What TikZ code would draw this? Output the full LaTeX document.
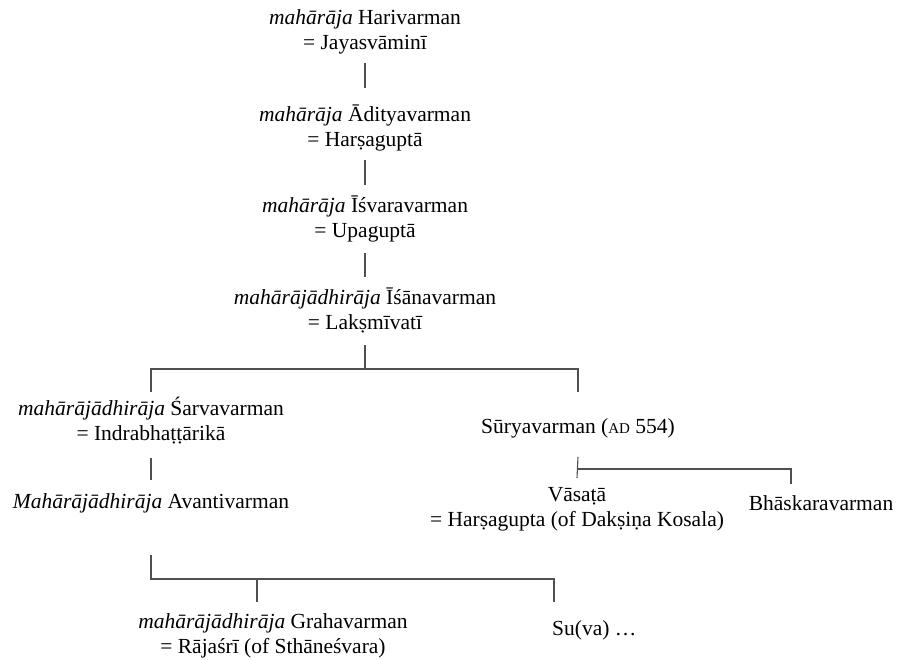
\documentclass[tikz,border=0pt]{standalone}
\usepackage{fontspec}
\setmainfont{Liberation Serif}
\begin{document}
\begin{tikzpicture}[x=1pt,y=-1pt,
  person/.style={inner sep=0pt, align=center, anchor=base,
    font=\fontsize{21.5}{25}\selectfont},
  conn/.style={draw={rgb,255:red,80;green,80;blue,80}, line width=1.1pt}]
\useasboundingbox (0,0) rectangle (908,660);
% anchor=base of a two-line node is the baseline of its last line
\node[person] (hari) at (365,50) {\textit{mahārāja} Harivarman\\= Jayasvāminī};
\node[person] (adit) at (365,147) {\textit{mahārāja} Ādityavarman\\= Harṣaguptā};
\node[person] (isv) at (365,238) {\textit{mahārāja} Īśvaravarman\\= Upaguptā};
\node[person] (isan) at (365,330) {\textit{mahārājādhirāja} Īśānavarman\\= Lakṣmīvatī};
\node[person] (sarva) at (151,440) {\textit{mahārājādhirāja} Śarvavarman\\= Indrabhaṭṭārikā};
\node[person] (avanti) at (151,508) {\textit{Mahārājādhirāja} Avantivarman};
\node[person] (surya) at (578,433) {Sūryavarman ({\fontsize{15}{15}\selectfont AD} 554)};
\node[person] (vasata) at (577,526) {Vāsaṭā\\= Harṣagupta (of Dakṣiṇa Kosala)};
\node[person] (bhaskara) at (821,510) {Bhāskaravarman};
\node[person] (graha) at (273,653) {\textit{mahārājādhirāja} Grahavarman\\= Rājaśrī (of Sthāneśvara)};
\node[person, anchor=base west] (suva) at (552,635) {Su(va) …};

\draw[conn] ([yshift=-13pt]hari.base) -- ([yshift=59pt]adit.base);
\draw[conn] ([yshift=-13pt]adit.base) -- ([yshift=53pt]isv.base);
\draw[conn] ([yshift=-15pt]isv.base) -- ([yshift=53pt]isan.base);
\draw[conn] ([yshift=-15pt]isan.base) -- ([yshift=-39pt]isan.base);
\draw[conn] ([yshift=48pt]sarva.base) -- ([yshift=71pt]sarva.base) -| ([yshift=41pt]surya.base);
\draw[conn] ([yshift=-18pt]sarva.base) -- ([yshift=28pt]avanti.base);
\draw[conn] ([yshift=-24pt]surya.base) -- ([yshift=48pt]vasata.base);
\draw[conn] ([yshift=-36pt]surya.base) -| ([xshift=-30pt,yshift=26pt]bhaskara.base);
\draw[conn] ([yshift=-47pt]avanti.base) -- ([yshift=-71pt]avanti.base) -| ([xshift=2pt,yshift=33pt]suva.base west);
\draw[conn] ([xshift=-16pt,yshift=74pt]graha.base) -- ([xshift=-16pt,yshift=51pt]graha.base);
\end{tikzpicture}
\end{document}
